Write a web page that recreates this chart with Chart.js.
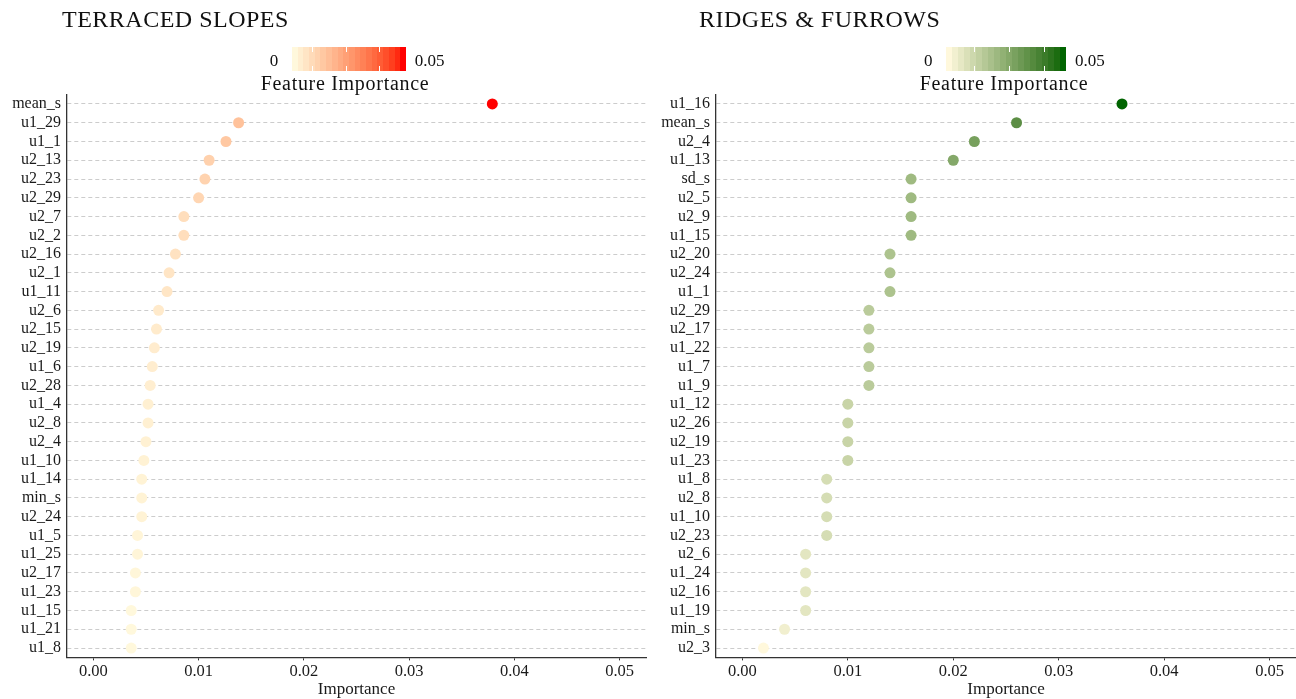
<!DOCTYPE html>
<html>
<head>
<meta charset="utf-8">
<script src="https://cdn.jsdelivr.net/npm/chart.js@4.4.1/dist/chart.umd.min.js"></script>
<style>
  body { margin: 0; background: #fff; }
  #wrap { position: relative; width: 1296px; height: 699px; overflow: hidden; font-family: 'Liberation Serif', serif; color: #111; }
  .panel { position: absolute; top: 0; width: 648px; height: 699px; }
  .title { position: absolute; font-size: 24px; line-height: 24px; letter-spacing: 0.5px; white-space: nowrap; }
  .cb-label { position: absolute; font-size: 17px; line-height: 17px; white-space: nowrap; }
  .cb-title { position: absolute; font-size: 20px; line-height: 20px; letter-spacing: 0.7px; white-space: nowrap; transform: translateX(-50%); }
  .cb-bar { position: absolute; }
  .cb-tick { position: absolute; width: 1px; background: #fff; }
</style>
</head>
<body>
<div id="wrap">
  <div class="panel" style="left:0"><canvas id="leftChart" width="648" height="699"></canvas></div>
  <div class="panel" style="left:648px"><canvas id="rightChart" width="648" height="699"></canvas></div>
</div>
<script>
// terraced slopes
const leftLabels = ['mean_s', 'u1_29', 'u1_1', 'u2_13', 'u2_23', 'u2_29', 'u2_7', 'u2_2', 'u2_16', 'u2_1',
  'u1_11', 'u2_6', 'u2_15', 'u2_19', 'u1_6', 'u2_28', 'u1_4', 'u2_8', 'u2_4', 'u1_10',
  'u1_14', 'min_s', 'u2_24', 'u1_5', 'u1_25', 'u2_17', 'u1_23', 'u1_15', 'u1_21', 'u1_8'];
const leftValues = [0.0379, 0.0138, 0.0126, 0.0110, 0.0106, 0.0100, 0.0086, 0.0086, 0.0078, 0.0072,
  0.0070, 0.0062, 0.0060, 0.0058, 0.0056, 0.0054, 0.0052, 0.0052, 0.0050, 0.0048,
  0.0046, 0.0046, 0.0046, 0.0042, 0.0042, 0.0040, 0.0040, 0.0036, 0.0036, 0.0036];

// ridges & furrows
const rightLabels = ['u1_16', 'mean_s', 'u2_4', 'u1_13', 'sd_s', 'u2_5', 'u2_9', 'u1_15', 'u2_20', 'u2_24',
  'u1_1', 'u2_29', 'u2_17', 'u1_22', 'u1_7', 'u1_9', 'u1_12', 'u2_26', 'u2_19', 'u1_23',
  'u1_8', 'u2_8', 'u1_10', 'u2_23', 'u2_6', 'u1_24', 'u2_16', 'u1_19', 'min_s', 'u2_3'];
const rightValues = [0.036, 0.026, 0.022, 0.020, 0.016, 0.016, 0.016, 0.016, 0.014, 0.014,
  0.014, 0.012, 0.012, 0.012, 0.012, 0.012, 0.010, 0.010, 0.010, 0.010,
  0.008, 0.008, 0.008, 0.008, 0.006, 0.006, 0.006, 0.006, 0.004, 0.002];

const xTicks = [0, 0.01, 0.02, 0.03, 0.04, 0.05];
const legendBreaks = [0.01, 0.02, 0.03, 0.04];
const legendLabels = ['0', '0.05'];

Chart.defaults.font.family = "'Liberation Serif', serif";
Chart.defaults.color = '#1a1a1a';

// colour helpers, interpolation in Lab like ggplot
function toLab(c) {
  const lin = c.map(v => { v /= 255; return v <= 0.04045 ? v / 12.92 : Math.pow((v + 0.055) / 1.055, 2.4); });
  const X = (0.4124 * lin[0] + 0.3576 * lin[1] + 0.1805 * lin[2]) / 0.95047;
  const Y = 0.2126 * lin[0] + 0.7152 * lin[1] + 0.0722 * lin[2];
  const Z = (0.0193 * lin[0] + 0.1192 * lin[1] + 0.9505 * lin[2]) / 1.08883;
  const f = t => t > 0.008856 ? Math.cbrt(t) : 7.787 * t + 16 / 116;
  return [116 * f(Y) - 16, 500 * (f(X) - f(Y)), 200 * (f(Y) - f(Z))];
}
function fromLab(l) {
  const fy = (l[0] + 16) / 116, fx = fy + l[1] / 500, fz = fy - l[2] / 200;
  const g = t => t * t * t > 0.008856 ? t * t * t : (t - 16 / 116) / 7.787;
  const X = g(fx) * 0.95047, Y = g(fy), Z = g(fz) * 1.08883;
  const lin = [3.2406 * X - 1.5372 * Y - 0.4986 * Z, -0.9689 * X + 1.8758 * Y + 0.0415 * Z, 0.0557 * X - 0.2040 * Y + 1.0570 * Z];
  const rgb = lin.map(v => { v = v <= 0.0031308 ? 12.92 * v : 1.055 * Math.pow(v, 1 / 2.4) - 0.055; return Math.round(Math.min(1, Math.max(0, v)) * 255); });
  return 'rgb(' + rgb.join(',') + ')';
}
function mixLab(a, b, t) {
  const la = toLab(a), lb = toLab(b);
  return fromLab(la.map((v, i) => v + (lb[i] - v) * t));
}

const cornsilk = [255, 248, 220];

function addLegend(left, title, titleX, values, high, bar) {
  const wrap = document.getElementById('wrap');
  const vMin = Math.min(...values), vMax = Math.max(...values);

  const t = document.createElement('div');
  t.className = 'title';
  t.style.left = left + 'px';
  t.style.top = '6.6px';
  t.textContent = title;
  wrap.appendChild(t);

  // banded colourbar
  const nbin = 20;
  const stops = [];
  for (let i = 0; i < nbin; i++) {
    const c = mixLab(cornsilk, high, i / (nbin - 1));
    stops.push(c + ' ' + (i / nbin * 100) + '%', c + ' ' + ((i + 1) / nbin * 100) + '%');
  }
  const b = document.createElement('div');
  b.className = 'cb-bar';
  b.style.cssText = 'left:' + bar.x + 'px;top:47.3px;width:' + bar.w + 'px;height:23.4px;background:linear-gradient(to right,' + stops.join(',') + ')';
  wrap.appendChild(b);

  legendBreaks.forEach(v => {
    if (v < vMin || v > vMax) return;
    const px = bar.x + (v - vMin) / (vMax - vMin) * bar.w;
    [47.3, 47.3 + 23.4 - 4.7].forEach(top => {
      const k = document.createElement('div');
      k.className = 'cb-tick';
      k.style.cssText = 'left:' + (px - 0.5) + 'px;top:' + top + 'px;height:4.7px';
      wrap.appendChild(k);
    });
  });

  const l0 = document.createElement('div');
  l0.className = 'cb-label';
  l0.style.left = (bar.x - 22) + 'px';
  l0.style.top = '52.4px';
  l0.textContent = legendLabels[0];
  wrap.appendChild(l0);

  const l1 = document.createElement('div');
  l1.className = 'cb-label';
  l1.style.left = (bar.x + bar.w + 9) + 'px';
  l1.style.top = '52.4px';
  l1.textContent = legendLabels[1];
  wrap.appendChild(l1);

  const ft = document.createElement('div');
  ft.className = 'cb-title';
  ft.style.left = titleX + 'px';
  ft.style.top = '73.2px';
  ft.textContent = 'Feature Importance';
  wrap.appendChild(ft);
}

function buildChart(canvasId, labels, values, high, axisLeft, padRight) {
  const vMin = Math.min(...values), vMax = Math.max(...values);
  const colors = values.map(v => mixLab(cornsilk, high, (v - vMin) / (vMax - vMin)));

  return new Chart(document.getElementById(canvasId), {
    type: 'scatter',
    data: {
      labels: labels,
      datasets: [{
        data: values.map((v, i) => ({ x: v, y: labels[i] })),
        pointRadius: 5.5,
        pointHoverRadius: 5.5,
        pointBackgroundColor: colors,
        pointBorderWidth: 0,
      }]
    },
    options: {
      responsive: false,
      animation: false,
      events: [],
      layout: { autoPadding: false, padding: { top: 94.6, right: padRight, left: 0, bottom: 0 } },
      plugins: { legend: { display: false }, tooltip: { enabled: false } },
      scales: {
        x: {
          type: 'linear',
          min: -0.0025,
          max: 0.0525,
          afterBuildTicks: s => { s.ticks = xTicks.map(v => ({ value: v })); },
          afterFit: s => {
            s.height = 699 - 657.4;
            s.paddingLeft = 0;
            s.paddingRight = 0;
          },
          grid: { drawOnChartArea: false, drawTicks: true, tickLength: 3, color: '#333', lineWidth: 1 },
          border: { color: '#333', width: 1.3 },
          ticks: { padding: 1, font: { size: 16.5 }, callback: v => v.toFixed(2) },
          title: { display: true, text: 'Importance', font: { size: 17, lineHeight: 1 }, padding: { top: 0, bottom: 1 } }
        },
        y: {
          type: 'category',
          labels: labels,
          offset: true,
          afterFit: s => {
            s.width = axisLeft;
            s.paddingTop = 0;
            s.paddingBottom = 0;
          },
          grid: { drawTicks: false, color: '#cccccc', lineWidth: 1 },
          border: { color: '#333', width: 1.3, dash: [4, 3] },
          ticks: { padding: 6, font: { size: 16 }, autoSkip: false }
        }
      }
    }
  });
}

buildChart('leftChart', leftLabels, leftValues, [255, 0, 0], 67, 2);
buildChart('rightChart', rightLabels, rightValues, [0, 100, 0], 68, 0);

addLegend(62, 'TERRACED SLOPES', 345, leftValues, [255, 0, 0], { x: 291.7, w: 114 });
addLegend(699, 'RIDGES & FURROWS', 1004, rightValues, [0, 100, 0], { x: 946, w: 120 });
</script>
</body>
</html>
